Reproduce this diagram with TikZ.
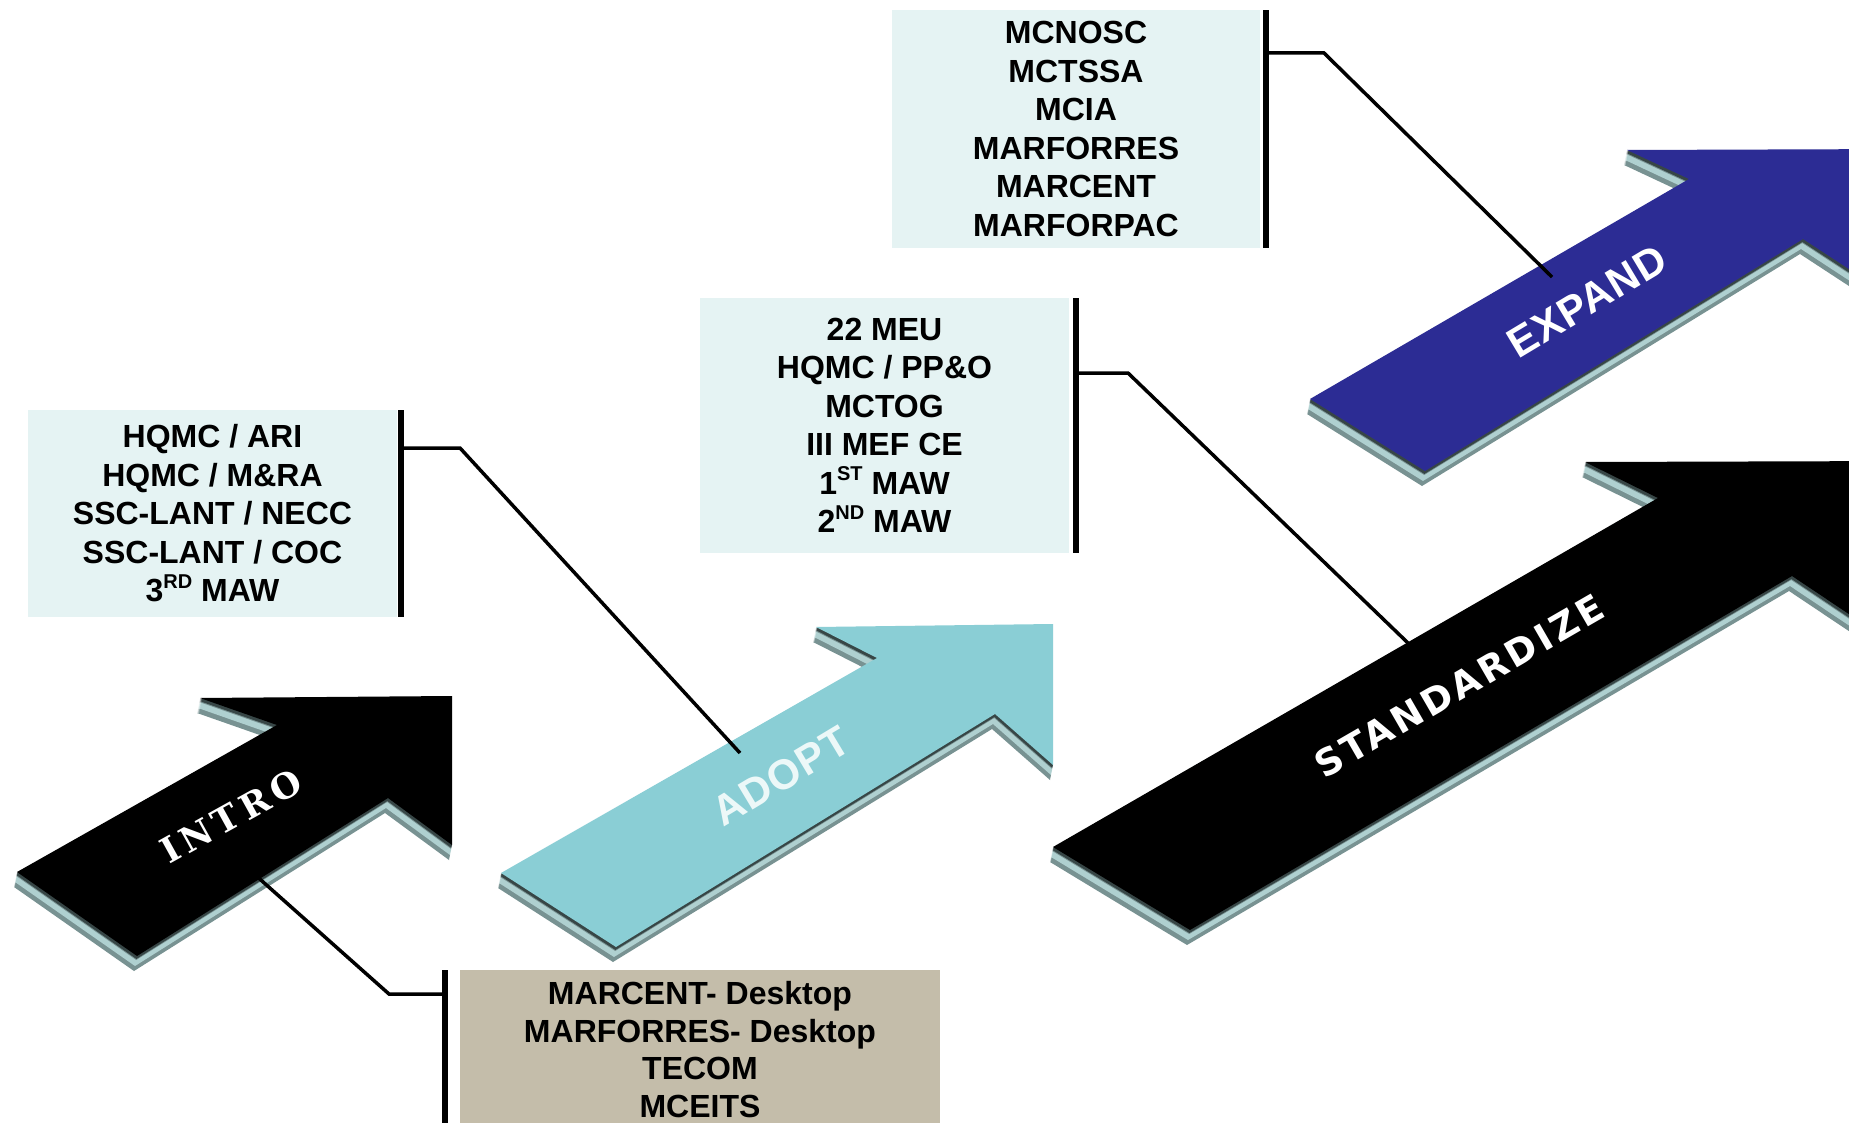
\documentclass[tikz,border=0pt]{standalone}
\usepackage{fontspec}
\setmainfont{Liberation Sans}
\newfontfamily\slabfont[LetterSpace=15]{DejaVu Serif}
\newfontfamily\verdfont[LetterSpace=9]{DejaVu Sans}
\newfontfamily\arrowfont[LetterSpace=3]{Liberation Sans}
\definecolor{boxblue}{RGB}{229,243,243}
\definecolor{boxtan}{RGB}{196,189,170}
\definecolor{adoptc}{RGB}{138,206,213}
\definecolor{expandc}{RGB}{44,44,148}
\definecolor{bevL}{RGB}{175,208,208}
\definecolor{bevM}{RGB}{120,146,146}
\definecolor{bevD}{RGB}{55,70,70}
\newcommand\upsc[1]{\raisebox{0.42em}{\fontsize{20}{20}\selectfont #1}}
\def\pIntro{(452,696) -- (200,698) -- (277,725) -- (17,872) -- (137,956) -- (388,798) -- (452,845) -- cycle}
\def\pAdopt{(1053,624) -- (816,627) -- (877,658) -- (501,873) -- (616,947) -- (995,714) -- (1053,765) -- cycle}
\def\pStand{(1910,461) -- (1585,462) -- (1658,498) -- (1053,847) -- (1190,930) -- (1792,576) -- (1910,655) -- cycle}
\def\pExpand{(1910,149) -- (1627,150) -- (1689,179) -- (1310,399) -- (1425,471) -- (1803,239) -- (1910,309) -- cycle}
\newcommand\bevelarrow[2]{%
  \foreach \k/\c in {15/bevM,14/bevM,13/bevM,12/bevM,11/bevM,10/bevL,9/bevL,8/bevL,7/bevL,6/bevL,5/bevL,4/bevM,3/bevD,2/bevD,1/bevD}{%
    \fill[\c,shift={(-0.2*\k,\k)}] #1;}%
  \fill[#2] #1;}
\begin{document}
\begin{tikzpicture}[x=1pt,y=-1pt,
  infobox/.style={fill=boxblue, inner sep=0pt, align=center,
    font=\bfseries\fontsize{32}{38.5}\selectfont},
  tanbox/.style={infobox, fill=boxtan, font=\bfseries\fontsize{32}{37.7}\selectfont},
  barnode/.style={fill=black, inner sep=0pt, minimum width=6pt},
  link/.style={line width=3.5pt, line join=miter},
  arrowlab/.style={text=white, inner sep=0pt}]
\useasboundingbox (0,0) rectangle (1849,1123);
\clip (0,0) rectangle (1849,1123);
\fill[white] (0,0) rectangle (1849,1123);

% arrows
\bevelarrow{\pStand}{black}
\bevelarrow{\pExpand}{expandc}
\bevelarrow{\pAdopt}{adoptc}
\bevelarrow{\pIntro}{black}

% arrow labels
\node[arrowlab, font={\slabfont\bfseries\fontsize{35}{35}\selectfont}, rotate=29] (tIntro) at (231,816) {INTRO};
\node[arrowlab, text={rgb,255:red,236;green,248;blue,248}, font={\arrowfont\bfseries\fontsize{42}{42}\selectfont}, rotate=31] (tAdopt) at (781,776) {ADOPT};
\node[arrowlab, font={\verdfont\bfseries\fontsize{37}{37}\selectfont}, rotate=30] (tStand) at (1459,686) {STANDARDIZE};
\node[arrowlab, font={\arrowfont\bfseries\fontsize{42}{42}\selectfont}, rotate=31] (tExpand) at (1587,301) {EXPAND};

% boxes
\node[infobox, minimum width=369pt, minimum height=207pt] (boxA) at (212.5,513.5)
  {HQMC / ARI\\HQMC / M\&RA\\SSC-LANT / NECC\\SSC-LANT / COC\\3\upsc{RD} MAW};
\node[infobox, minimum width=369pt, minimum height=255pt] (boxB) at (884.5,425.5)
  {22 MEU\\HQMC / PP\&O\\MCTOG\\III MEF CE\\1\upsc{ST} MAW\\2\upsc{ND} MAW};
\node[infobox, minimum width=368pt, minimum height=238pt] (boxC) at (1076,129)
  {MCNOSC\\MCTSSA\\MCIA\\MARFORRES\\MARCENT\\MARFORPAC};
\node[tanbox, minimum width=480pt, minimum height=159pt] (boxD) at (700,1049.5)
  {MARCENT- Desktop\\MARFORRES- Desktop\\TECOM\\MCEITS};

% bars
\node[barnode, minimum height=207pt] (barA) at (400.5,513.5) {};
\node[barnode, minimum height=255pt] (barB) at (1075.5,425.5) {};
\node[barnode, minimum height=238pt] (barC) at (1265.5,129) {};
\node[barnode, minimum height=160pt] (barD) at (445,1050) {};

% connectors
\coordinate (kA) at (460,448);  \coordinate (eA) at (740,753);
\coordinate (kB) at (1128,373); \coordinate (eB) at (1408,643);
\coordinate (kC) at (1324,53);  \coordinate (eC) at (1552,277);
\coordinate (kD) at (389,994);  \coordinate (eD) at (253,873);
\draw[link] (barA.east |- kA) -- (kA) -- (eA);
\draw[link] (barB.east |- kB) -- (kB) -- (eB);
\draw[link] (barC.east |- kC) -- (kC) -- (eC);
\draw[link] (barD.west |- kD) -- (kD) -- (eD);
\end{tikzpicture}
\end{document}
